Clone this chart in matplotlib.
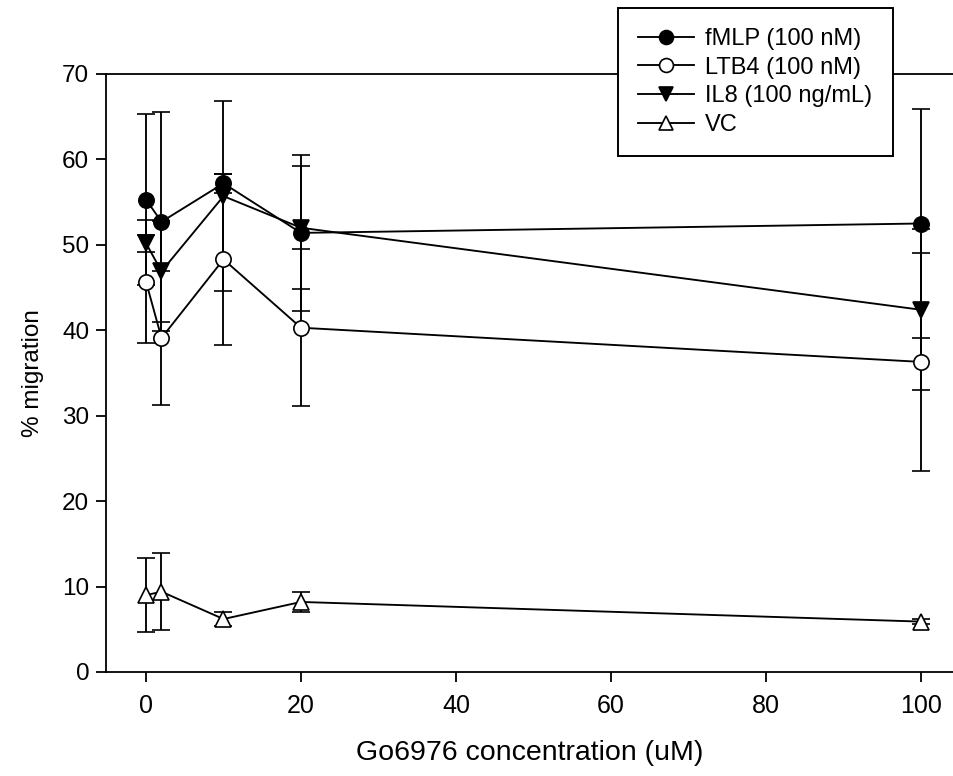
import matplotlib
matplotlib.use("Agg")
import matplotlib.pyplot as plt
from matplotlib.lines import Line2D

# Go6976 concentration (uM)
conc = [0, 2, 10, 20, 100]

fmlp = [55.3, 52.7, 57.2, 51.4, 52.5]
fmlp_err = [10.0, 12.8, 1.1, 9.1, 13.4]

ltb4 = [45.7, 39.1, 48.3, 40.3, 36.3]
ltb4_err = [7.2, 7.8, 10.0, 9.2, 12.8]

il8 = [50.2, 46.9, 55.7, 52.0, 42.4]
il8_err = [1.0, 5.9, 11.1, 7.2, 9.4]

vc = [9.0, 9.4, 6.2, 8.2, 5.9]
vc_err = [4.3, 4.5, 0.8, 1.2, 0.3]

labels = ["fMLP (100 nM)", "LTB4 (100 nM)", "IL8 (100 ng/mL)", "VC"]

plt.rcParams["font.family"] = ["Liberation Sans", "DejaVu Sans"]

fig = plt.figure(figsize=(9.54, 7.76), dpi=100)
ax = fig.add_axes([106 / 954, 1 - 672 / 776, 1 - 106 / 954, (672 - 74) / 776])

lw = 1.35
ekw = dict(color="black", elinewidth=lw, capsize=6.5, capthick=lw, linewidth=lw, markersize=11,
           markeredgecolor="black", markeredgewidth=1.2)

handles = []
for y, err, mk, fc in [
    (fmlp, fmlp_err, "o", "black"),
    (ltb4, ltb4_err, "o", "white"),
    (il8, il8_err, "v", "black"),
    (vc, vc_err, "^", "white"),
]:
    ax.errorbar(conc, y, yerr=err, marker=mk, markerfacecolor=fc, **ekw)
    handles.append(Line2D([], [], color="black", lw=lw, marker=mk, markersize=10,
                          markerfacecolor=fc, markeredgecolor="black", markeredgewidth=1.2))

ax.set_xlim(-5.16, 104.26)
ax.set_ylim(0, 70)
ax.set_xticks([0, 20, 40, 60, 80, 100])
ax.set_yticks(range(0, 71, 10))
ax.spines["right"].set_visible(False)
for s in ["left", "bottom", "top"]:
    ax.spines[s].set_linewidth(1.3)
ax.tick_params(direction="out", length=7, width=1.3)
ax.tick_params(axis="y", labelsize=17.5, pad=5)
ax.tick_params(axis="x", labelsize=18, pad=9)

ax.set_ylabel("% migration", fontsize=17.5, labelpad=13)
ax.set_xlabel("Go6976 concentration (uM)", fontsize=20.5, labelpad=16)

leg = fig.legend(handles=handles, labels=labels, loc="upper left",
                 bbox_to_anchor=(618 / 954, 1 - 8 / 776), borderaxespad=0,
                 fontsize=17, frameon=True, fancybox=False, framealpha=1,
                 edgecolor="black", handlelength=2.35, handletextpad=0.5,
                 labelspacing=0.28, borderpad=0.85)
leg.get_frame().set_linewidth(1.4)

fig.savefig("out.png", dpi=100)
